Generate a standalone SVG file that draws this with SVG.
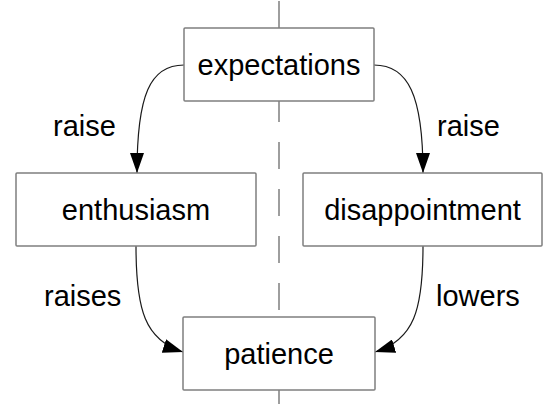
<svg xmlns="http://www.w3.org/2000/svg" width="547" height="412" viewBox="0 0 547 412">
  <style>
    .box { fill: #ffffff; stroke: #7f7f7f; stroke-width: 1.5; }
    .t { font-family: "Liberation Sans", Arial, sans-serif; font-size: 29px; fill: #000000; }
    .c { text-anchor: middle; }
    .edge { fill: none; stroke: #1a1a1a; stroke-width: 1.2; }
    .axis { stroke: #7f7f7f; stroke-width: 1.5; stroke-dasharray: 27 20; stroke-dashoffset: -1; }
  </style>
  <defs>
    <marker id="arrow" markerUnits="userSpaceOnUse" markerWidth="20" markerHeight="14" refX="20" refY="7" orient="auto">
      <path d="M0,0 L20,7 L0,14 z" fill="#000000"/>
    </marker>
  </defs>
  <rect width="547" height="412" fill="#ffffff"/>
  <line class="axis" x1="279" y1="0" x2="279" y2="412"/>

  <g id="connectors">
    <path class="edge" d="M184,65 C150,65 137,95 137,173" marker-end="url(#arrow)"/>
    <path class="edge" d="M374,65 C408,65 423,95 423,173" marker-end="url(#arrow)"/>
    <path class="edge" d="M136,246 C136,310 145,340 183,352" marker-end="url(#arrow)"/>
    <path class="edge" d="M423,246 C423,310 414,340 375,352" marker-end="url(#arrow)"/>
    <text class="t" x="53" y="136">raise</text>
    <text class="t" x="437" y="136">raise</text>
    <text class="t" x="44" y="306">raises</text>
    <text class="t" x="436" y="306">lowers</text>
  </g>

  <g id="expectations">
    <rect class="box" x="184" y="28" width="190" height="73" rx="1"/>
    <text class="t c" x="279" y="75">expectations</text>
  </g>
  <g id="enthusiasm">
    <rect class="box" x="16" y="173" width="240" height="73" rx="1"/>
    <text class="t c" x="136" y="220">enthusiasm</text>
  </g>
  <g id="disappointment">
    <rect class="box" x="303" y="173" width="239" height="73" rx="1"/>
    <text class="t c" x="422.5" y="220">disappointment</text>
  </g>
  <g id="patience">
    <rect class="box" x="183" y="317" width="192" height="73" rx="1"/>
    <text class="t c" x="279" y="364">patience</text>
  </g>
</svg>
